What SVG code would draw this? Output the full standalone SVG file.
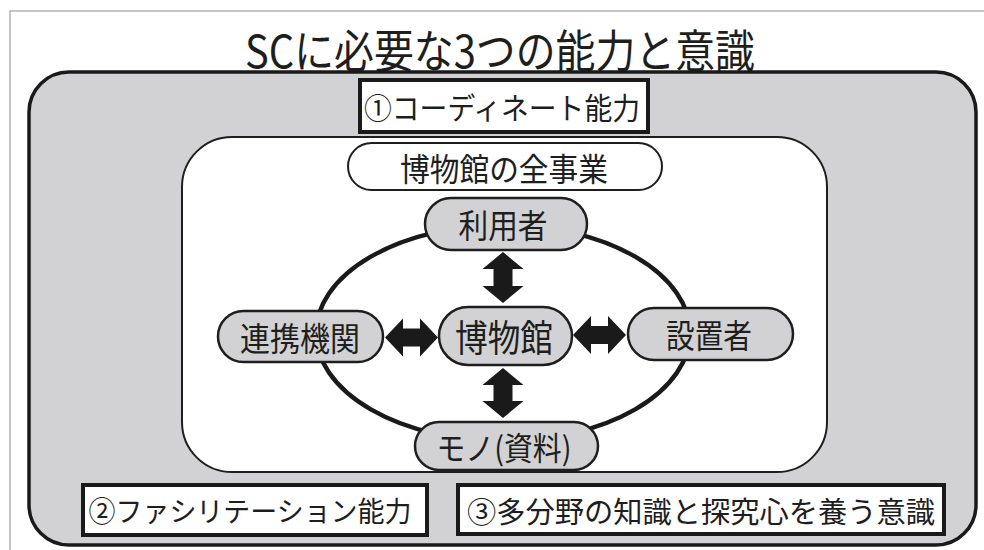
<svg xmlns="http://www.w3.org/2000/svg" width="984" height="550" viewBox="0 0 984 550">
<style>
text{font-family:"Noto Sans CJK JP","Noto Sans",sans-serif;fill:#1e1e1e;text-anchor:middle;dominant-baseline:central}
.pill{fill:#d2d2d4;stroke:#1e1e1e;stroke-width:2.5}
.wpill{fill:#fff;stroke:#1e1e1e;stroke-width:2}
.box{fill:#fff;stroke:#1a1a1a;stroke-width:4}
.arr{fill:#1a1a1a}
</style>
<rect x="0" y="0" width="984" height="550" fill="#fff"/>
<rect x="10" y="11" width="1000" height="600" fill="none" stroke="#a0a0a0" stroke-width="1.2"/>
<g id="title"><text x="500" y="48" font-size="45" textLength="510" lengthAdjust="spacingAndGlyphs">SCに必要な3つの能力と意識</text></g>
<g id="frame"><rect x="29" y="72" width="947" height="473" rx="40" fill="#d2d2d4" stroke="#1a1a1a" stroke-width="3.5"/></g>
<g id="box1"><rect class="box" x="360" y="80" width="288" height="52"/><text x="502" y="106" font-size="30" textLength="276" lengthAdjust="spacingAndGlyphs">①コーディネート能力</text></g>
<g id="inner"><rect x="182" y="137" width="645" height="335" rx="50" fill="#fff" stroke="#1e1e1e" stroke-width="2"/></g>
<g id="connectors">
<ellipse cx="503" cy="333" rx="187" ry="108" fill="none" stroke="#1a1a1a" stroke-width="4.5"/>
<polygon class="arr" points="503,252 523.5,269 512.5,269 512.5,286 523.5,286 503,303 482.5,286 493.5,286 493.5,269 482.5,269"/>
<polygon class="arr" points="503,368 523.5,385 512.5,385 512.5,401 523.5,401 503,418 482.5,401 493.5,401 493.5,385 482.5,385"/>
<polygon class="arr" points="385,337.5 403,318.5 403,328.5 420,328.5 420,318.5 438,337.5 420,356.5 420,346.5 403,346.5 403,356.5"/>
<polygon class="arr" points="573,335 591,316 591,326 608,326 608,316 626,335 608,354 608,344 591,344 591,354"/>
</g>
<g id="allwork"><rect class="wpill" x="348" y="143" width="314" height="47" rx="23.5"/><text x="504" y="166.5" font-size="32" textLength="208" lengthAdjust="spacingAndGlyphs">博物館の全事業</text></g>
<g id="users"><rect class="pill" x="425" y="198" width="162" height="52" rx="26"/><text x="503" y="224" font-size="33" textLength="89" lengthAdjust="spacingAndGlyphs">利用者</text></g>
<g id="partners"><rect class="pill" x="218" y="311" width="165" height="51" rx="25.5"/><text x="300" y="336.5" font-size="33" textLength="120" lengthAdjust="spacingAndGlyphs">連携機関</text></g>
<g id="museum"><rect class="pill" x="439" y="307" width="133" height="58" rx="29"/><text x="504" y="336" font-size="37" textLength="98" lengthAdjust="spacingAndGlyphs">博物館</text></g>
<g id="founder"><rect class="pill" x="628" y="308" width="165" height="52" rx="26"/><text x="709" y="334" font-size="33" textLength="86" lengthAdjust="spacingAndGlyphs">設置者</text></g>
<g id="objects"><rect class="pill" x="415" y="422" width="183" height="48" rx="24"/><text x="504" y="446" font-size="32" textLength="135" lengthAdjust="spacingAndGlyphs">モノ(資料)</text></g>
<g id="box2"><rect class="box" x="83" y="485" width="344" height="50"/><text x="250" y="510" font-size="28" textLength="323" lengthAdjust="spacingAndGlyphs">②ファシリテーション能力</text></g>
<g id="box3"><rect class="box" x="458" y="485" width="486" height="49"/><text x="701" y="509.5" font-size="29" textLength="468" lengthAdjust="spacingAndGlyphs">③多分野の知識と探究心を養う意識</text></g>
</svg>
